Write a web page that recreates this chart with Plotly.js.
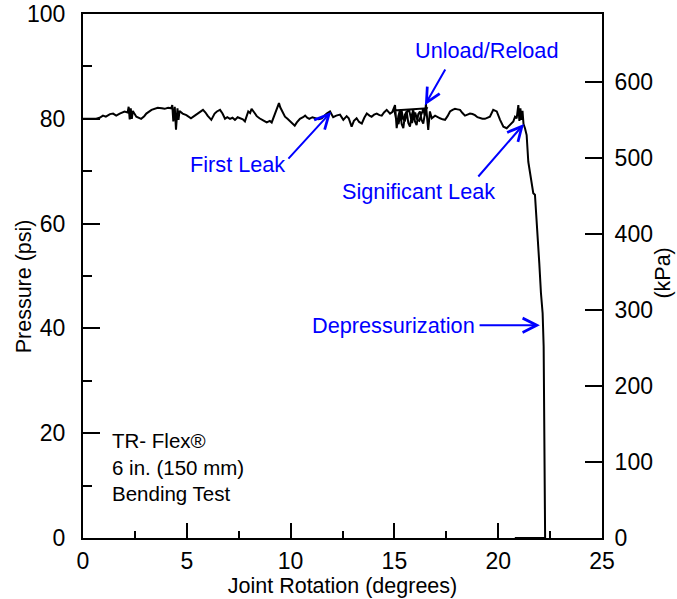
<!DOCTYPE html>
<html>
<head>
<meta charset="utf-8">
<script src="https://cdn.plot.ly/plotly-3.0.1.min.js"></script>
<style>html,body{margin:0;padding:0;background:#fff;}#chart{width:677px;height:599px;}</style>
</head>
<body>
<div id="chart"></div>
<script>
// Joint rotation (degrees)
const rotationDeg = [0, 0.64, 0.8, 0.96, 1.1, 1.2, 1.3, 1.45, 1.6, 1.77, 1.9, 2.0, 2.15, 2.2, 2.25, 2.3, 2.35, 2.4, 2.57, 2.7, 2.8, 2.95, 3.05, 3.3, 3.45, 3.6, 3.8, 3.93,
  4.1, 4.25, 4.3, 4.35, 4.42, 4.48, 4.55, 4.6, 4.65, 4.8, 4.98, 5.2, 5.35, 5.54, 5.78, 5.9, 6.0, 6.18, 6.34, 6.45, 6.6, 6.72, 6.84, 6.95, 7.08, 7.2, 7.32, 7.45, 7.56,
  7.7, 7.8, 7.9, 7.96, 8.05, 8.12, 8.25, 8.37, 8.5, 8.6, 8.72, 8.85, 9.0, 9.09, 9.25, 9.35, 9.44, 9.5, 9.57, 9.73, 9.85, 9.97, 10.1, 10.2, 10.3, 10.45, 10.6, 10.7, 10.8, 10.9, 11.05, 11.2, 11.35, 11.5, 11.62, 11.74, 11.9,
  12.05, 12.2, 12.38, 12.54, 12.7, 12.8, 12.94, 13.05, 13.18, 13.3, 13.43, 13.55, 13.67, 13.8, 13.9, 14.02, 14.15, 14.28, 14.39, 14.5, 14.63, 14.79, 14.9,
  15.03, 15.07, 15.11, 15.19, 15.27, 15.35, 15.43, 15.51, 15.59, 15.67, 15.75, 15.83, 15.91, 15.99, 16.07, 16.15, 16.23, 16.31, 16.39, 16.47, 16.56,
  15.0, 15.1, 15.2, 15.28, 15.35, 15.42, 15.5, 15.6, 15.7, 15.78, 15.85, 15.92, 16.0, 16.1, 16.2, 16.3, 16.4, 16.46, 16.52, 16.58, 16.63, 16.71, 16.8,
  16.96, 17.08, 17.2, 17.32, 17.44, 17.56, 17.68, 17.8, 17.92, 18.04, 18.16, 18.28, 18.4, 18.52, 18.64, 18.76, 18.88, 19.0, 19.12, 19.24, 19.36, 19.48, 19.6, 19.76, 19.93, 20.09, 20.25, 20.41, 20.57,
  20.73, 20.81, 20.89, 20.97, 21.02, 21.07, 21.12, 21.17, 21.22, 21.29, 21.37, 21.45, 21.53, 21.61, 21.69, 21.77, 21.83,
  21.9, 21.98, 22.06, 22.14, 22.19, 22.22, 22.25, 22.26, 20.8];
// Pressure (psi)
const pressurePsi = [80.0, 80.0, 80.2, 80.6, 80.4, 80.6, 80.9, 81.0, 80.6, 81.0, 81.2, 81.4, 81.2, 82.3, 79.9, 82.0, 80.0, 81.5, 80.4, 80.2, 80.0, 80.5, 81.0, 81.7, 81.9, 82.1, 82.0, 81.9,
  82.1, 82.0, 82.6, 79.5, 82.3, 77.9, 82.0, 79.8, 81.5, 81.0, 80.7, 80.1, 80.5, 81.0, 81.7, 81.2, 80.6, 79.8, 81.0, 81.4, 81.7, 81.0, 80.0, 80.3, 80.0, 80.2, 79.8, 80.3, 80.1,
  79.9, 79.5, 80.6, 81.4, 81.1, 81.9, 81.2, 80.5, 80.1, 79.8, 79.6, 79.3, 79.6, 79.3, 81.0, 82.0, 83.0, 82.2, 81.7, 80.4, 80.0, 79.5, 79.1, 78.7, 79.3, 80.0, 80.3, 80.6, 80.2, 80.0, 80.3, 80.1, 79.9, 80.1, 80.6, 81.0, 81.4,
  80.3, 80.6, 80.8, 79.8, 80.5, 80.1, 78.5, 79.6, 80.1, 79.4, 79.1, 80.2, 81.0, 80.6, 80.4, 80.8, 81.0, 80.7, 80.6, 81.2, 81.7, 81.0, 81.3,
  82.6, 79.5, 78.2, 80.5, 81.7, 79.0, 78.2, 80.8, 81.4, 79.2, 78.5, 80.6, 81.7, 79.5, 78.8, 80.9, 81.4, 79.8, 79.1, 81.0, 82.0,
  81.6, 79.6, 79.0, 80.8, 81.5, 80.0, 79.5, 81.2, 81.8, 80.0, 79.2, 80.6, 81.2, 79.8, 79.6, 80.9, 81.9, 80.5, 82.8, 80.0, 77.9, 81.4, 80.1,
  80.6, 80.3, 80.1, 79.9, 79.8, 80.5, 81.4, 81.7, 81.9, 81.8, 81.7, 81.1, 80.6, 80.8, 81.0, 80.9, 80.7, 80.3, 80.1, 80.0, 80.0, 80.2, 80.4, 81.7, 81.4, 79.8, 78.5, 78.2, 78.8,
  79.5, 80.4, 80.1, 82.6, 79.6, 82.0, 79.8, 81.5, 79.0, 78.2, 76.9, 71.8, 69.9, 67.4, 65.8, 65.5, 62.0,
  58.5, 52.4, 46.7, 42.9, 36.5, 23.8, 11.1, 0, 0];

const xTicks = [0, 5, 10, 15, 20, 25];
const psiTicks = [0, 20, 40, 60, 80, 100];
const kPaTicks = [0, 100, 200, 300, 400, 500, 600];
const PSI_TO_KPA = 6.89476;

const annotationTexts = ["Unload/Reload", "First Leak", "Significant Leak", "Depressurization"];
const noteLines = ["TR- Flex®", "6 in. (150 mm)", "Bending Test"];
const axisTitles = {x: "Joint Rotation (degrees)", left: "Pressure (psi)", right: "(kPa)"};

const FONT = "Liberation Sans, Arial, Helvetica, sans-serif";
const BLUE = "#0000ff";

const traces = [
  {x: rotationDeg, y: pressurePsi, type: "scatter", mode: "lines",
   line: {color: "#000", width: 2}, showlegend: false, hoverinfo: "skip"},
  {x: [], y: [], type: "scatter", mode: "lines", yaxis: "y2", showlegend: false, hoverinfo: "skip"}
];

function arrow(tipX, tipY, tailX, tailY) {
  return {x: tipX, y: tipY, ax: tailX, ay: tailY, axref: "x", ayref: "y", xref: "x", yref: "y",
    text: "", showarrow: true, arrowhead: 5, arrowsize: 1.4, arrowwidth: 2, arrowcolor: BLUE, standoff: 0, startstandoff: 0};
}
function label(txt, x, y) {
  return {x: x, y: y, xref: "x", yref: "y", text: txt, showarrow: false,
    font: {family: FONT, size: 21.7, color: BLUE}, xanchor: "center", yanchor: "middle"};
}
function vtitle(txt, xPaper, yPaper) {
  return {x: xPaper, y: yPaper, xref: "paper", yref: "paper", text: txt, showarrow: false, textangle: -90,
    font: {family: FONT, size: 21.5, color: "#000"}, xanchor: "center", yanchor: "middle"};
}

const annotations = [
  label(annotationTexts[0], 19.46, 93.1), arrow(16.47, 82.6, 17.49, 89.7),
  label(annotationTexts[1], 7.42, 71.2), arrow(11.95, 81.3, 9.83, 72.1),
  label(annotationTexts[2], 16.18, 66.2), arrow(21.24, 79.0, 18.98, 68.7),
  label(annotationTexts[3], 14.98, 40.6), arrow(22.01, 40.6, 19.03, 40.6),
  {x: 1.3, y: 21.1, xref: "x", yref: "y", text: noteLines.join("<br>"), showarrow: false, align: "left",
   xanchor: "left", yanchor: "top", font: {family: FONT, size: 20.5, color: "#000"}},
  vtitle(axisTitles.left, -0.113, 0.481),
  vtitle(axisTitles.right, 1.118, 0.505)
];

const axisCommon = {
  showgrid: false, zeroline: false, showline: true, linecolor: "#000", linewidth: 2,
  ticks: "inside", tickcolor: "#000", tickwidth: 2,
  tickfont: {family: FONT, size: 23, color: "#000"}
};

const layout = {
  width: 677, height: 599,
  margin: {l: 83, r: 75, t: 14, b: 61, pad: 0},
  paper_bgcolor: "#fff", plot_bgcolor: "#fff",
  font: {family: FONT, size: 21, color: "#000"},
  xaxis: Object.assign({}, axisCommon, {
    range: [0, 25], tickmode: "array", tickvals: xTicks, ticktext: xTicks.map(String),
    ticklen: 15, mirror: true, ticklabelstandoff: 1,
    minor: {ticks: "inside", ticklen: 7, dtick: 2.5, tick0: 0, tickwidth: 2, tickcolor: "#000", showgrid: false},
    title: {text: axisTitles.x, font: {family: FONT, size: 21.5}, standoff: 0}
  }),
  yaxis: Object.assign({}, axisCommon, {
    range: [0, 100], tickmode: "array", tickvals: psiTicks, ticktext: psiTicks.map(String),
    ticklen: 17, ticklabelstandoff: 11,
    minor: {ticks: "inside", ticklen: 9, dtick: 10, tick0: 0, tickwidth: 2, tickcolor: "#000", showgrid: false}
  }),
  yaxis2: Object.assign({}, axisCommon, {
    overlaying: "y", side: "right", anchor: "x",
    range: [0, 100 * PSI_TO_KPA], tickmode: "array", tickvals: kPaTicks, ticktext: kPaTicks.map(String),
    ticklen: 17, ticklabelstandoff: 6
  }),
  annotations: annotations
};

Plotly.newPlot("chart", traces, layout, {displayModeBar: false, staticPlot: true});
</script>
</body>
</html>
